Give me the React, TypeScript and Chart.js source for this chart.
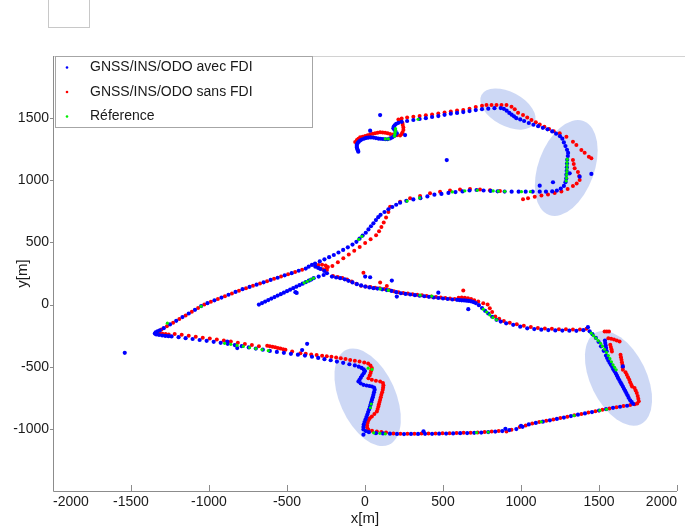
import React, { useEffect, useRef } from 'react';
import { Chart, registerables } from 'chart.js';

Chart.register(...registerables);

// ---- axes ----
const X_TICKS = [-2000, -1500, -1000, -500, 0, 500, 1000, 1500, 2000];
const Y_TICKS = [-1000, -500, 0, 500, 1000, 1500];
const X_MIN = -2000;
const X_MAX = 2000;
const Y_MIN = -1500;
const Y_MAX = 2000;

// ---- series names ----
const SERIES_NAMES = ['GNSS/INS/ODO avec FDI', 'GNSS/INS/ODO sans FDI', 'Réference'];

// ---- GNSS/INS/ODO avec FDI (blue) ----
const avecFdi: [number, number][] = [
  [-680, 0], [-660, 12], [-640, 24], [-620, 36], [-600, 48], [-580, 60], [-560, 72], [-540, 84], [-520, 96], [-500, 108],
  [-480, 120], [-460, 132], [-440, 144], [-420, 156], [-400, 168], [-380, 180], [-360, 192], [-345, 201],
  [-446, 100], [-438, 94], [-329, 212], [-297, 225], [-265, 238],
  [-361, 305], [-340, 319], [-318, 305], [-300, 295], [-286, 287], [-261, 271], [-244, 252],
  [-212, 225], [-185, 218], [-159, 212], [-130, 203], [-106, 191], [-80, 178], [-52, 164], [-25, 154], [1, 145], [28, 138], [54, 132],
  [-380, 290], [-425, 272], [-470, 253], [-515, 235], [-560, 216], [-605, 198], [-650, 179], [-695, 160], [-740, 142], [-785, 124],
  [-830, 102], [-875, 79], [-920, 56], [-965, 34], [-1010, 11], [-1050, -12], [-1090, -42], [-1130, -72], [-1170, -101], [-1210, -131],
  [-1250, -160], [-1290, -190],
  [-1315, -208], [-1330, -215], [-1342, -224], [-1347, -233], [-1338, -240], [-1320, -245], [-1300, -249], [-1280, -252], [-1260, -254], [-1240, -256],
  [-1195, -262], [-1150, -270], [-1105, -277], [-1060, -285], [-1015, -292], [-970, -300], [-925, -308], [-880, -316], [-835, -326], [-790, -335],
  [-745, -345], [-700, -354], [-655, -363], [-610, -373], [-565, -381], [-520, -388], [-475, -396], [-430, -403], [-385, -410], [-340, -420],
  [-300, -429], [-260, -439], [-220, -448], [-180, -459], [-140, -469], [-100, -480], [-65, -490],
  [-883, -297], [-819, -350], [-371, -316], [-403, -366], [-1540, -388],
  [-40, -500], [-22, -510], [-8, -522], [0, -535], [-8, -552], [-18, -570], [-27, -588], [-35, -605], [-42, -619], [-28, -634],
  [-10, -646], [10, -651], [28, -655], [44, -659], [58, -668], [62, -685], [58, -705], [54, -726], [50, -745], [45, -765],
  [40, -785], [36, -805], [31, -825], [26, -845], [20, -865], [15, -885], [9, -905], [3, -925], [-3, -945], [-8, -965],
  [-10, -985], [-10, -1005], [5, -1018], [25, -1027], [-10, -1047],
  [70, -1035], [115, -1037], [160, -1039], [205, -1041], [250, -1042], [295, -1041], [340, -1041], [385, -1040], [430, -1040], [475, -1039],
  [520, -1038], [565, -1037], [610, -1035], [655, -1034], [700, -1032], [745, -1030], [790, -1026], [835, -1022], [880, -1018], [925, -1010],
  [970, -1002], [1010, -984], [1050, -964], [1095, -952], [1140, -942], [1185, -931], [1230, -920], [1275, -909], [1320, -897], [1365, -886],
  [1410, -876], [1455, -865], [1500, -853], [1545, -842], [1590, -831], [1635, -822], [1680, -814],
  [375, -1020], [900, -1000], [1000, -975],
  [1720, -800], [1710, -785], [1700, -770], [1690, -750], [1683, -730], [1675, -712], [1668, -695], [1660, -678], [1653, -660], [1645, -642],
  [1638, -625], [1630, -607], [1622, -590], [1615, -572], [1608, -555], [1600, -537], [1592, -520], [1585, -502], [1576, -485], [1568, -468],
  [1560, -450], [1552, -430], [1545, -410], [1530, -372], [1513, -336], [1497, -300], [1480, -268], [1458, -238], [1440, -215],
  [1538, -290], [1540, -310], [1543, -330], [1546, -350], [1549, -375], [1653, -498], [1429, -182],
  [1400, -206], [1355, -211], [1310, -210], [1265, -209], [1220, -208], [1175, -205], [1130, -202], [1085, -197], [1040, -191], [995, -178],
  [950, -163], [905, -151], [870, -137], [843, -123], [815, -98], [790, -72], [770, -50], [750, -28], [730, -5], [710, 12],
  [695, 20], [680, 26], [665, 29], [650, 31], [635, 33], [620, 34], [605, 36], [590, 38], [560, 41], [530, 45],
  [500, 49], [470, 53], [440, 57], [410, 62], [380, 67], [350, 71], [320, 76], [290, 81], [260, 86], [230, 91],
  [200, 100], [170, 110], [140, 117], [110, 123], [80, 129],
  [1, 225], [33, 220], [172, 193], [204, 64], [470, 96], [662, -37],
  [-320, 330], [-290, 347], [-260, 364], [-230, 381], [-200, 399], [-170, 419], [-140, 440], [-110, 461], [-80, 483], [-55, 505],
  [-35, 530], [-15, 555], [5, 578], [22, 605], [38, 630], [54, 654], [70, 680], [85, 703], [100, 722], [125, 745],
  [150, 767], [175, 785], [200, 803], [225, 820], [265, 835], [310, 846], [355, 856], [400, 870], [445, 884], [490, 890],
  [535, 898], [580, 905], [625, 910], [670, 918], [715, 922], [760, 918], [805, 914], [850, 911], [895, 909], [940, 908],
  [985, 908], [1030, 908], [1075, 908], [1120, 908], [1160, 908], [1200, 910], [1230, 917], [1255, 933], [1275, 955], [1285, 985],
  [1290, 1015], [1291, 1045], [1293, 1075], [1294, 1105], [1295, 1135], [1296, 1165], [1300, 1195], [1302, 1220], [1295, 1245], [1285, 1275],
  [1275, 1305], [1265, 1335],
  [1120, 957], [1205, 984], [1312, 1056], [1376, 1029], [1451, 1051],
  [1250, 1355], [1225, 1375], [1200, 1393], [1170, 1410], [1140, 1422], [1110, 1435], [1080, 1447], [1050, 1461], [1020, 1477], [995, 1490],
  [970, 1500], [955, 1515], [940, 1528], [925, 1542], [908, 1560], [890, 1575], [870, 1581],
  [830, 1580], [790, 1576], [750, 1572], [710, 1565], [670, 1557], [630, 1549], [590, 1542], [550, 1536], [510, 1527], [470, 1517],
  [430, 1509], [390, 1500], [350, 1493], [310, 1485], [270, 1477], [235, 1470],
  [214, 1462], [200, 1454], [190, 1442], [184, 1430], [182, 1418], [188, 1408], [195, 1396], [204, 1378], [196, 1366], [187, 1356],
  [175, 1346], [161, 1337], [145, 1330], [130, 1330], [115, 1332], [100, 1334], [86, 1336], [70, 1340], [54, 1344], [38, 1345],
  [22, 1344], [8, 1341], [-5, 1336], [-20, 1328], [-31, 1320], [-40, 1310], [-47, 1300], [-52, 1288], [-53, 1276], [-52, 1264],
  [-50, 1252], [-45, 1240], [-43, 1230],
  [97, 1525], [33, 1399], [257, 1364], [524, 1163],
];

// ---- GNSS/INS/ODO sans FDI (red) ----
const sansFdi: [number, number][] = [
  [-403, 281], [-448, 262], [-493, 244], [-538, 225], [-583, 207], [-628, 188], [-673, 170], [-718, 151], [-763, 132], [-808, 112],
  [-853, 90], [-898, 67], [-943, 45], [-988, 22], [-1030, 0], [-1070, -27], [-1110, -57], [-1150, -87], [-1190, -116], [-1230, -146],
  [-1270, -175], [-1305, -200],
  [-1320, -212], [-1328, -222], [-1318, -230], [-1298, -234], [-1278, -237], [-1258, -240],
  [-1220, -236], [-1175, -243], [-1130, -251], [-1085, -258], [-1040, -266], [-995, -273], [-950, -281], [-905, -289], [-860, -298], [-815, -308],
  [-770, -317], [-725, -326], [-680, -336],
  [-627, -332], [-610, -336], [-593, -340], [-576, -344], [-559, -349], [-542, -354], [-525, -359], [-510, -364], [-467, -378],
  [-414, -391], [-380, -396], [-345, -401], [-310, -406], [-275, -411], [-245, -415], [-215, -420], [-185, -426], [-155, -432], [-125, -438],
  [-95, -445], [-65, -452], [-35, -459], [-5, -466], [20, -475],
  [35, -490], [44, -511], [40, -530], [36, -550], [30, -570], [22, -592], [44, -605], [70, -612], [97, -619], [115, -632],
  [118, -650], [116, -668], [114, -686], [110, -706], [105, -726], [101, -746], [97, -766], [93, -784], [89, -802], [86, -820],
  [81, -840], [76, -860], [60, -880], [44, -900], [30, -915], [22, -930], [17, -950], [13, -970], [14, -990], [22, -1007],
  [45, -1015], [76, -1021], [105, -1026], [135, -1030],
  [182, -1037], [227, -1039], [272, -1040], [317, -1039], [362, -1038], [407, -1037], [452, -1037], [497, -1036], [542, -1035], [587, -1034],
  [632, -1032], [677, -1031], [722, -1029], [767, -1026], [812, -1022], [857, -1018], [907, -1021], [939, -1007], [992, -986], [1030, -972],
  [1072, -956], [1117, -945], [1162, -935], [1207, -924], [1252, -913], [1297, -902], [1342, -890], [1387, -880], [1432, -869], [1477, -858],
  [1522, -847], [1567, -836], [1612, -826], [1657, -817], [1700, -808],
  [1536, -217], [1550, -217], [1564, -217], [1560, -270], [1578, -275], [1596, -282], [1614, -290], [1632, -297], [1572, -324], [1576, -342],
  [1580, -360], [1583, -378], [1638, -404], [1641, -424], [1644, -444], [1647, -464], [1650, -484], [1652, -504], [1653, -525], [1670, -545],
  [1678, -565], [1686, -585], [1694, -605], [1700, -625], [1707, -645], [1712, -659], [1728, -672], [1735, -692], [1742, -712], [1748, -735],
  [1752, -757], [1755, -778], [1745, -795], [1730, -803],
  [1420, -195], [1378, -200], [1333, -200], [1288, -199], [1243, -198], [1198, -195], [1153, -192], [1108, -188], [1063, -181], [1018, -170],
  [973, -158], [928, -146], [890, -132], [860, -115], [835, -95], [815, -60], [800, -30], [786, 0], [758, 11], [726, 24],
  [700, 35], [680, 44], [660, 50], [640, 55], [620, 56], [600, 55], [575, 44], [545, 48], [515, 52], [485, 56],
  [455, 60], [425, 64], [395, 69], [365, 74], [335, 79], [305, 84], [275, 89], [245, 94], [215, 100], [185, 108],
  [155, 118], [125, 125], [95, 131], [65, 136], [35, 141], [5, 146], [-25, 152], [-55, 168], [-85, 185], [-115, 202],
  [-145, 214], [-175, 222], [-205, 230],
  [-10, 257], [97, 177], [140, 150], [630, 113],
  [-318, 310], [-298, 318], [-275, 320], [-252, 314], [-238, 302], [-248, 290], [-270, 284],
  [-244, 279], [-209, 310], [-174, 341], [-139, 372], [-104, 403], [-69, 433], [-34, 464], [1, 495], [36, 526], [71, 557],
  [90, 590], [105, 625], [120, 660], [135, 700], [150, 745],
  [161, 788], [225, 828], [289, 855], [353, 874], [417, 896], [481, 908], [545, 918], [609, 926], [673, 930], [737, 926],
  [801, 920], [865, 914],
  [1013, 847], [1045, 855], [1088, 868], [1131, 878], [1173, 886], [1216, 898], [1259, 910], [1299, 930], [1333, 954], [1357, 974],
  [1376, 1002], [1373, 1035], [1365, 1067], [1344, 1097], [1338, 1131], [1333, 1163],
  [1248, 1378], [1291, 1351], [1333, 1310], [1355, 1284], [1387, 1244], [1408, 1222], [1435, 1190], [1451, 1177],
  [779, 1605], [811, 1606], [843, 1605], [875, 1606], [907, 1605], [939, 1592], [960, 1571], [981, 1544], [1013, 1525], [1040, 1505],
  [1067, 1485], [1095, 1466], [1120, 1449], [1150, 1430], [1180, 1412], [1210, 1395],
  [750, 1600], [710, 1590], [670, 1576], [630, 1566], [590, 1561], [550, 1554], [510, 1545], [470, 1537], [430, 1530], [390, 1523],
  [350, 1517], [310, 1511], [270, 1505], [235, 1498],
  [214, 1490], [231, 1477], [240, 1460], [242, 1445], [246, 1425], [246, 1405], [240, 1385], [236, 1372], [225, 1360], [205, 1362],
  [180, 1368], [161, 1372], [145, 1378], [129, 1383], [113, 1385], [97, 1386], [81, 1382], [65, 1378], [49, 1374], [33, 1370],
  [17, 1363], [1, 1356], [-15, 1351], [-31, 1346], [-42, 1335], [-52, 1324], [-63, 1308],
];

// ---- Réference (green) ----
const reference: [number, number][] = [
  [196, 1415], [195, 1400], [193, 1385], [191, 1370], [189, 1355], [130, 1333], [150, 1333], [340, 1491],
  [1296, 1170], [1295, 1145], [1295, 1120], [1295, 1095], [1294, 1070], [1293, 1045], [1292, 1020], [1290, 995],
  [270, 833], [350, 858], [560, 906], [640, 915], [720, 920], [822, 914], [855, 912], [896, 911], [1003, 908], [1060, 908],
  [-40, 525], [-20, 548],
  [-390, 175], [-370, 187], [-350, 200], [-330, 212],
  [97, 126], [150, 115], [353, 76], [428, 68],
  [758, -37], [780, -60], [800, -83], [820, -105], [843, -123],
  [1450, -230], [1465, -250], [1480, -270], [1495, -290], [1510, -312], [1522, -335], [1535, -360], [1548, -385], [1560, -410], [1570, -435],
  [1580, -460], [1590, -485], [1600, -505], [1610, -525],
  [1505, -852], [1548, -843],
  [715, -1030], [790, -1026], [1130, -943], [1340, -893],
  [55, -1032], [95, -1036], [130, -1040], [40, -800], [35, -830],
  [-900, -312], [-860, -320], [-820, -329], [-780, -337], [-740, -346], [-700, -354], [-660, -362], [-620, -371],
  [20, -512], [45, -522],
  [-1267, -150], [-1050, -14],
];

// ---- highlighted zones (centre in data units) ----
const zoneCenters: [number, number][] = [[916, 1573], [1290, 1099], [17, -746], [1625, -593]];

// ---- styles ----
const FONT = "'Liberation Sans', Arial, Helvetica, sans-serif";
const SERIES_COLORS = ['#0000ff', '#ff0000', '#00ee00'];
const SERIES_RADIUS = [2.1, 2.0, 1.6];
const ZONE_SHAPES = [
  { rx: 30, ry: 17, rot: 0.49 },
  { rx: 50, ry: 28, rot: -1.22 },
  { rx: 52, ry: 28, rot: 1.15 },
  { rx: 51, ry: 28, rot: 1.12 },
];
const ZONE_FILL = 'rgba(100,135,225,0.32)';
const TEXT_COLOR = '#1a1a1a';

const framePlugin = {
  id: 'frame',
  beforeDatasetsDraw(chart: any) {
    const { ctx, chartArea, scales } = chart;
    ctx.save();
    ctx.beginPath();
    ctx.rect(chartArea.left, chartArea.top, chartArea.right - chartArea.left, chartArea.bottom - chartArea.top);
    ctx.clip();
    ctx.fillStyle = ZONE_FILL;
    zoneCenters.forEach(([cx, cy], i) => {
      const s = ZONE_SHAPES[i];
      ctx.beginPath();
      ctx.ellipse(scales.x.getPixelForValue(cx), scales.y.getPixelForValue(cy), s.rx, s.ry, s.rot, 0, Math.PI * 2);
      ctx.fill();
    });
    ctx.restore();
  },
  afterDatasetsDraw(chart: any) {
    const { ctx, chartArea, scales } = chart;
    const { left, right, top, bottom } = chartArea;
    ctx.save();
    ctx.lineWidth = 1;
    // top border line
    ctx.strokeStyle = '#d2d2d2';
    ctx.beginPath();
    ctx.moveTo(left, top + 0.5);
    ctx.lineTo(chart.width, top + 0.5);
    ctx.stroke();
    // axes
    ctx.strokeStyle = '#8c8c8c';
    ctx.beginPath();
    ctx.moveTo(left + 0.5, top);
    ctx.lineTo(left + 0.5, bottom + 0.5);
    ctx.lineTo(right, bottom + 0.5);
    ctx.stroke();
    // x ticks (inward)
    ctx.beginPath();
    X_TICKS.forEach((v) => {
      const px = Math.round(scales.x.getPixelForValue(v)) + 0.5;
      ctx.moveTo(px, bottom);
      ctx.lineTo(px, bottom - 6);
    });
    // y ticks (outward)
    Y_TICKS.forEach((v) => {
      const py = Math.round(scales.y.getPixelForValue(v)) + 0.5;
      ctx.moveTo(left, py);
      ctx.lineTo(left - 3, py);
    });
    ctx.stroke();

    // legend
    const lx = left + 2;
    const ly = top + 0.5;
    const lw = 257;
    const lh = 71;
    ctx.fillStyle = '#ffffff';
    ctx.fillRect(lx, ly, lw, lh);
    ctx.strokeStyle = '#a6a6a6';
    ctx.strokeRect(lx + 0.5, ly, lw, lh);
    ctx.font = `14px ${FONT}`;
    ctx.textBaseline = 'middle';
    ctx.textAlign = 'left';
    SERIES_NAMES.forEach((name, i) => {
      const yy = ly + 11 + i * 24.5;
      ctx.fillStyle = SERIES_COLORS[i];
      ctx.beginPath();
      ctx.arc(lx + 12, yy, 1.3, 0, Math.PI * 2);
      ctx.fill();
      ctx.fillStyle = TEXT_COLOR;
      ctx.fillText(name, lx + 35, yy);
    });
    ctx.restore();
  },
};

export default function App() {
  const canvasRef = useRef<HTMLCanvasElement>(null);

  useEffect(() => {
    if (!canvasRef.current) return;
    const series = [avecFdi, sansFdi, reference];
    const orders = [1, 2, 0];
    const chart = new Chart(canvasRef.current, {
      type: 'scatter',
      data: {
        datasets: series.map((pts, i) => ({
          label: SERIES_NAMES[i],
          data: pts.map(([x, y]) => ({ x, y })),
          pointRadius: SERIES_RADIUS[i],
          pointHoverRadius: SERIES_RADIUS[i],
          pointBackgroundColor: SERIES_COLORS[i],
          pointBorderColor: SERIES_COLORS[i],
          pointBorderWidth: 0,
          showLine: false,
          order: orders[i],
        })),
      },
      options: {
        responsive: false,
        animation: false,
        events: [],
        layout: { padding: { left: 0, top: 56, right: 8, bottom: 0 } },
        plugins: { legend: { display: false }, tooltip: { enabled: false } },
        scales: {
          x: {
            type: 'linear',
            min: X_MIN,
            max: X_MAX,
            afterBuildTicks: (s: any) => {
              s.ticks = X_TICKS.map((value) => ({ value }));
            },
            afterFit: (s: any) => {
              s.height = 38;
            },
            ticks: {
              align: 'inner',
              autoSkip: false,
              maxRotation: 0,
              padding: 3,
              color: TEXT_COLOR,
              font: { family: FONT, size: 14 },
              callback: (v: any) => String(v),
            },
            grid: { display: false, drawTicks: false },
            border: { display: false },
            title: {
              display: true,
              text: 'x[m]',
              color: TEXT_COLOR,
              font: { family: FONT, size: 15 },
              padding: { top: 0, bottom: 1 },
            },
          },
          y: {
            type: 'linear',
            min: Y_MIN,
            max: Y_MAX,
            afterBuildTicks: (s: any) => {
              s.ticks = Y_TICKS.map((value) => ({ value }));
            },
            afterFit: (s: any) => {
              s.width = 53;
            },
            ticks: {
              autoSkip: false,
              padding: 4,
              color: TEXT_COLOR,
              font: { family: FONT, size: 14 },
              callback: (v: any) => String(v),
            },
            grid: { display: false, drawTicks: false },
            border: { display: false },
            title: {
              display: true,
              text: 'y[m]',
              color: TEXT_COLOR,
              font: { family: FONT, size: 15 },
              padding: { top: 14, bottom: 0 },
            },
          },
        },
      } as any,
      plugins: [framePlugin],
    });
    return () => chart.destroy();
  }, []);

  return (
    <div style={{ position: 'fixed', left: 0, top: 0, width: 685, height: 529, background: '#ffffff' }}>
      <canvas ref={canvasRef} width={685} height={529} style={{ display: 'block', width: 685, height: 529 }} />
      <div
        style={{
          position: 'absolute',
          left: 48,
          top: 0,
          width: 40,
          height: 27,
          borderLeft: '1px solid #c8c8c8',
          borderRight: '1px solid #c8c8c8',
          borderBottom: '1px solid #c8c8c8',
        }}
      />
    </div>
  );
}
